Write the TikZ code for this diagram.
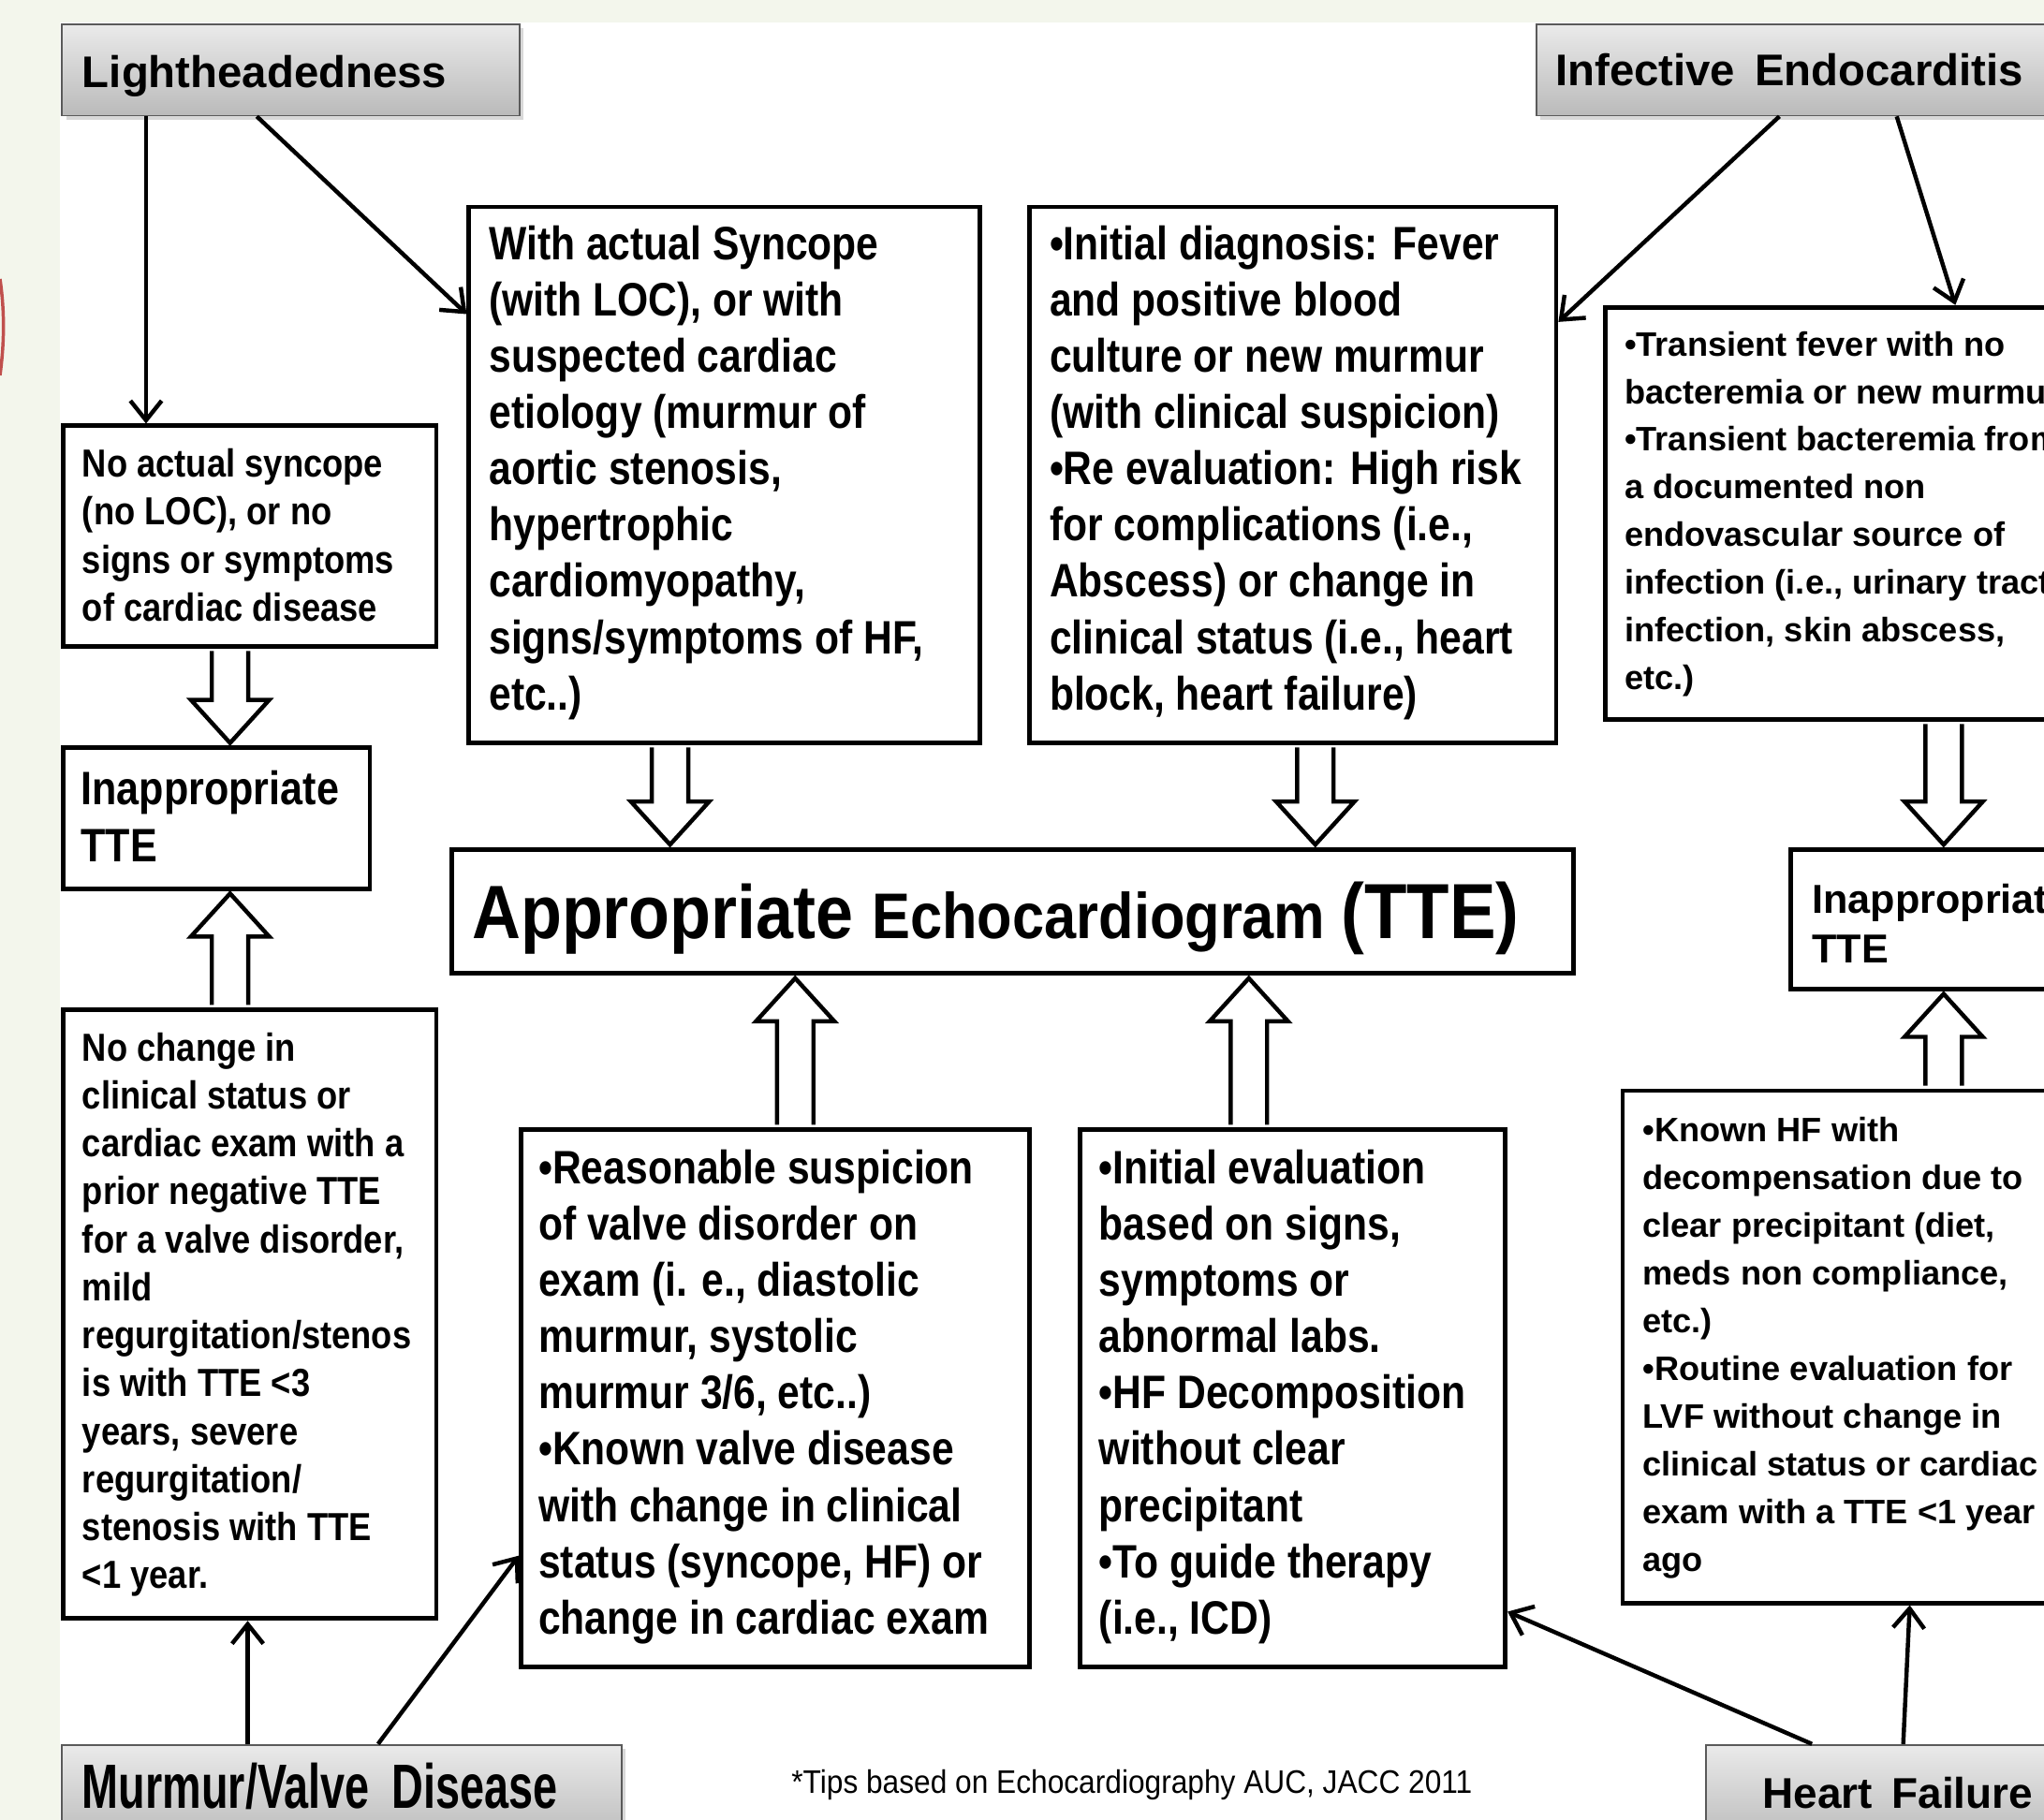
\documentclass[tikz,border=0pt]{standalone}
\usepackage{fontspec}
\setmainfont{Liberation Sans}
\newfontfamily\fC{Liberation Sans}[FakeStretch=0.85]
\newfontfamily\fL{Liberation Sans}[FakeStretch=0.87]
\newfontfamily\fI{Liberation Sans}[FakeStretch=0.86]
\newfontfamily\fM{Liberation Sans}[FakeStretch=0.70]
\newfontfamily\fA{Liberation Sans}[FakeStretch=0.89]
\newfontfamily\fF{Liberation Sans}[FakeStretch=0.91]
\usetikzlibrary{arrows.meta,calc,shadows}
\definecolor{pagebg}{HTML}{F3F6EC}
\definecolor{hdrtop}{HTML}{EAEAEA}
\definecolor{hdrbot}{HTML}{BABABA}
\definecolor{hdrline}{HTML}{5A5A5A}
\definecolor{slidered}{HTML}{C0504D}
\newcommand{\bu}{•}
\newcommand{\barrdn}[2]{\draw[blk] let \p1=(#1), \p2=(#2) in
  (\x1-14pt,\y1-2pt) -- (\x1-14pt,\y2+35pt) -- (\x1-30pt,\y2+35pt) -- (\x1,\y2+2pt)
  -- (\x1+30pt,\y2+35pt) -- (\x1+14pt,\y2+35pt) -- (\x1+14pt,\y1-2pt);}
\newcommand{\barrup}[2]{\draw[blk] let \p1=(#1), \p2=(#2) in
  (\x1-14pt,\y1+2pt) -- (\x1-14pt,\y2-35pt) -- (\x1-30pt,\y2-35pt) -- (\x1,\y2-2pt)
  -- (\x1+30pt,\y2-35pt) -- (\x1+14pt,\y2-35pt) -- (\x1+14pt,\y1+2pt);}
\tikzset{
  box/.style={draw=black, line width=3.5, fill=white, inner sep=0, anchor=north west},
  hdr/.style={draw=hdrline, line width=1.3, top color=hdrtop, bottom color=hdrbot,
    inner sep=0, anchor=north west,
    drop shadow={shadow xshift=3pt, shadow yshift=-3pt, opacity=0.3}},
  txt/.style={anchor=base west, align=left, inner sep=0},
  txtC/.style={txt, font=\fC\bfseries\fontsize{36}{43.2}\selectfont},
  txtL/.style={txt, font=\fL\bfseries\fontsize{30}{36.8}\selectfont},
  txtR/.style={txt, font=\bfseries\fontsize{26}{36.6}\selectfont},
  txtH/.style={txt, font=\bfseries\fontsize{34}{40}\selectfont},
  thinarr/.style={line width=3.2, -{Straight Barb[length=15pt,width=24pt]}},
  blk/.style={line width=3.2, fill=white, line join=miter},
}
\begin{document}
\begin{tikzpicture}[x=1pt,y=-1pt]
\useasboundingbox (0,0) rectangle (1568,1396);
\clip (0,0) rectangle (1568,1396);
\fill[pagebg] (0,0) rectangle (1568,1396);
\fill[white] (46,17) rectangle (1568,1396);
\draw[slidered, line width=2.5] (0,214) .. controls (3.5,238) and (3.5,262) .. (0,288);

% header boxes
\node[hdr, minimum width=351, minimum height=70] (light) at (47,18) {};
\node[txtH] (lightt) at (63,67) {Lightheadedness};
\node[hdr, minimum width=450, minimum height=70] (infect) at (1178,18) {};
\node[txtH] (infectt) at (1193,66) {Infective\, Endocarditis};
\node[hdr, minimum width=429, minimum height=75] (murmur) at (47,1338) {};
\node[txt, font=\fM\bfseries\fontsize{48}{50}\selectfont] (murmurt) at (63,1387) {Murmur/Valve\, Disease};
\node[hdr, minimum width=300, minimum height=75] (heart) at (1308,1338) {};
\node[txt, font=\bfseries\fontsize{33}{40}\selectfont] (heartt) at (1352,1387) {Heart\, Failure};

% boxes (text nodes anchored at the baseline of their last line)
\node[box, minimum width=286, minimum height=169] (noact) at (47,325) {};
\node[txtL] (noactt) at (63,476.4) {No actual syncope\\(no LOC), or no\\signs or symptoms\\of cardiac disease};

\node[box, minimum width=235, minimum height=108] (inapL) at (47,572) {};
\node[txt, font=\fI\bfseries\fontsize{36}{44}\selectfont] (inapLt) at (62,661) {Inappropriate\\TTE};

\node[box, minimum width=286, minimum height=467] (nochange) at (47,773) {};
\node[txtL] (nochanget) at (63,1218.8) {No change in\\clinical status or\\cardiac exam with a\\prior negative TTE\\for a valve disorder,\\mild\\regurgitation/stenos\\is with TTE <3\\years, severe\\regurgitation/\\stenosis with TTE\\<1 year.};

\node[box, minimum width=392, minimum height=411] (sync) at (358,157) {};
\node[txtC] (synct) at (375,544.6) {With actual Syncope\\(with LOC), or with\\suspected cardiac\\etiology (murmur of\\aortic stenosis,\\hypertrophic\\cardiomyopathy,\\signs/symptoms of HF,\\etc..)};

\node[box, minimum width=404, minimum height=411] (initdiag) at (788,157) {};
\node[txtC] (initdiagt) at (805,544.6) {\bu Initial diagnosis: Fever\\and positive blood\\culture or new murmur\\(with clinical suspicion)\\\bu Re evaluation: High risk\\for complications (i.e.,\\Abscess) or change in\\clinical status (i.e., heart\\block, heart failure)};

\node[box, minimum width=400, minimum height=316] (trans) at (1230,234) {};
\node[txtR] (transt) at (1246,529.2) {\bu Transient fever with no\\bacteremia or new murmur\\\bu Transient bacteremia from\\a documented non\\endovascular source of\\infection (i.e., urinary tract\\infection, skin abscess,\\etc.)};

\node[box, minimum width=250, minimum height=107] (inapR) at (1372,650) {};
\node[txt, font=\bfseries\fontsize{31}{38}\selectfont] (inapRt) at (1390,739) {Inappropriate\\TTE};

\node[box, minimum width=860, minimum height=95] (appr) at (345,650) {};
\node[txt, font=\fA\bfseries] (apprt) at (362,720) {{\fontsize{58}{60}\selectfont Appropriate }{\fontsize{49.5}{52}\selectfont Echocardiogram }{\fontsize{60}{62}\selectfont(TTE)}};

\node[box, minimum width=390, minimum height=412] (reason) at (398,865) {};
\node[txtC] (reasont) at (413,1253.6) {\bu Reasonable suspicion\\of valve disorder on\\exam (i. e., diastolic\\murmur, systolic\\murmur 3/6, etc..)\\\bu Known valve disease\\with change in clinical\\status (syncope, HF) or\\change in cardiac exam};

\node[box, minimum width=326, minimum height=412] (initeval) at (827,865) {};
\node[txtC] (initevalt) at (843,1253.6) {\bu Initial evaluation\\based on signs,\\symptoms or\\abnormal labs.\\\bu HF Decomposition\\without clear\\precipitant\\\bu To guide therapy\\(i.e., ICD)};

\node[box, minimum width=400, minimum height=393] (known) at (1243,835) {};
\node[txtR] (knownt) at (1260,1205.4) {\bu Known HF with\\decompensation due to\\clear precipitant (diet,\\meds non compliance,\\etc.)\\\bu Routine evaluation for\\LVF without change in\\clinical status or cardiac\\exam with a TTE <1 year\\ago};

\node[txt, font=\fF\fontsize{25}{30}\selectfont] (foot) at (607,1376) {*Tips based on Echocardiography AUC, JACC 2011};

% block arrows
\barrdn{$(noact.south west)+(129.5,0)$}{inapL.north}
\barrup{$(nochange.north west)+(129.5,0)$}{inapL.south}
\barrdn{$(sync.south west)+(156,0)$}{appr.north}
\barrdn{$(initdiag.south west)+(221,0)$}{appr.north}
\barrdn{$(trans.south west)+(261,0)$}{inapR.north}
\barrup{$(known.north west)+(248,0)$}{inapR.south}
\barrup{$(reason.north west)+(212,0)$}{appr.south}
\barrup{$(initeval.north west)+(131,0)$}{appr.south}

% thin arrows
\draw[thinarr] ($(light.south west)+(65,0)$) -- ($(noact.north west)+(65,0)$);
\draw[thinarr] ($(light.south west)+(150,0)$) -- ($(sync.north west)+(0,84)$);
\draw[thinarr] ($(infect.south west)+(187,0)$) -- ($(initdiag.north east)+(0,90)$);
\draw[thinarr] ($(infect.south west)+(277,0)$) -- ($(trans.north west)+(270,0)$);
\draw[thinarr] ($(murmur.north west)+(143,0)$) -- ($(nochange.south west)+(143,0)$);
\draw[thinarr] ($(murmur.north west)+(243,0)$) -- ($(reason.south west)+(0,-87)$);
\draw[thinarr] ($(heart.north west)+(82,0)$) -- ($(initeval.south east)+(0,-44)$);
\draw[thinarr] ($(heart.north west)+(152,0)$) -- ($(known.south west)+(222,0)$);
\end{tikzpicture}
\end{document}
